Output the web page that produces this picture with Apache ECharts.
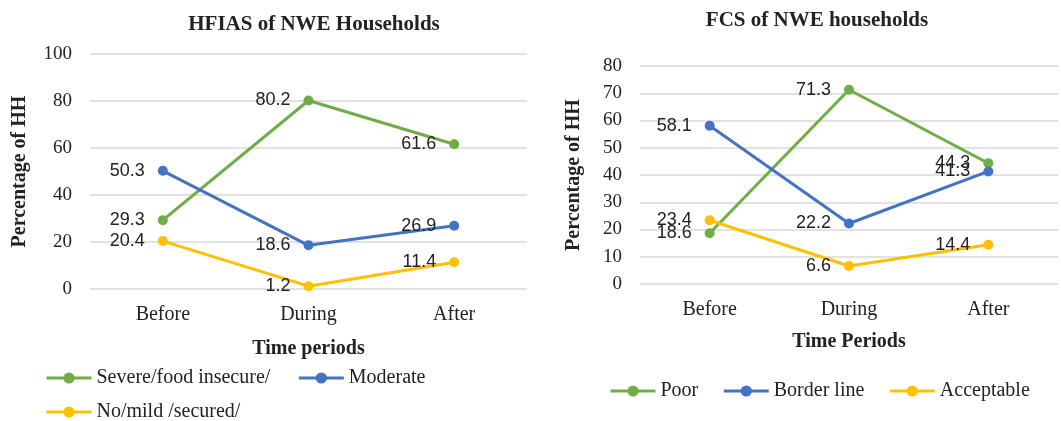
<!DOCTYPE html>
<html>
<head>
<meta charset="utf-8">
<script src="https://cdn.jsdelivr.net/npm/echarts@6/dist/echarts.min.js"></script>
<style>
  html, body { margin: 0; padding: 0; background: #fff; }
  #main { width: 1061px; height: 421px; }
</style>
</head>
<body>
<div id="main"></div>
<script>
// periods shared by both panels
var periods = ['Before', 'During', 'After'];

// HFIAS panel
var hfiasSevere = [29.3, 80.2, 61.6];
var hfiasModerate = [50.3, 18.6, 26.9];
var hfiasMild = [20.4, 1.2, 11.4];

// FCS panel
var fcsPoor = [18.6, 71.3, 44.3];
var fcsBorder = [58.1, 22.2, 41.3];
var fcsAcceptable = [23.4, 6.6, 14.4];

var green = '#70AD47', blue = '#4472C4', yellow = '#FFC000';
var serif = '"Liberation Serif", "Times New Roman", serif';
var sans = '"Liberation Sans", Arial, sans-serif';
var textCol = '#222';

function lineSeries(name, data, color, idx) {
    return {
        name: name,
        type: 'line',
        xAxisIndex: idx,
        yAxisIndex: idx,
        data: data,
        symbol: 'circle',
        symbolSize: 10,
        color: color,
        lineStyle: { width: 3, color: color },
        itemStyle: { color: color },
        label: {
            show: true,
            position: 'left',
            distance: 13,
            fontFamily: sans,
            fontSize: 18,
            color: textCol
        },
        z: 3
    };
}

function xAx(idx, name, gap) {
    return {
        type: 'category',
        gridIndex: idx,
        data: periods,
        boundaryGap: true,
        name: name,
        nameLocation: 'middle',
        nameGap: gap,
        nameTextStyle: { fontFamily: serif, fontWeight: 'bold', fontSize: 20, color: textCol },
        axisLine: { show: false },
        axisTick: { show: false },
        axisLabel: { fontFamily: serif, fontSize: 20, color: textCol, margin: 16 }
    };
}

function yAx(idx, max, interval, gap) {
    return {
        type: 'value',
        gridIndex: idx,
        min: 0,
        max: max,
        interval: interval,
        name: 'Percentage of HH',
        nameLocation: 'middle',
        nameGap: gap,
        nameTextStyle: { fontFamily: serif, fontWeight: 'bold', fontSize: 20, color: textCol },
        axisLine: { show: false },
        axisTick: { show: false },
        axisLabel: { fontFamily: serif, fontSize: 19, color: textCol, margin: 18 },
        splitLine: { lineStyle: { color: '#D9D9D9', width: 1.5 } }
    };
}

var legendText = { fontFamily: serif, fontSize: 20, color: textCol };
var legendLine = { width: 3 };

var chart = echarts.init(document.getElementById('main'));
var option = {
    backgroundColor: '#fff',
    animation: false,
    title: [
        {
            text: 'HFIAS of NWE Households',
            left: 309, top: 9, textAlign: 'center',
            textStyle: { fontFamily: serif, fontWeight: 'bold', fontSize: 21, color: textCol }
        },
        {
            text: 'FCS of NWE households',
            left: 812, top: 5, textAlign: 'center',
            textStyle: { fontFamily: serif, fontWeight: 'bold', fontSize: 21, color: textCol }
        }
    ],
    grid: [
        { left: 90, right: 534, top: 54, bottom: 132 },
        { left: 640, right: 3, top: 66, bottom: 137 }
    ],
    xAxis: [xAx(0, 'Time periods', 50), xAx(1, 'Time Periods', 48)],
    yAxis: [yAx(0, 100, 20, 60), yAx(1, 80, 10, 56)],
    legend: [
        {
            data: ['Severe/food insecure/', 'Moderate'],
            left: 40, top: 363, itemWidth: 45, itemHeight: 14, itemGap: 27,
            lineStyle: legendLine, textStyle: legendText
        },
        {
            data: ['No/mild /secured/'],
            left: 40, top: 397, itemWidth: 45, itemHeight: 14,
            lineStyle: legendLine, textStyle: legendText
        },
        {
            data: ['Poor', 'Border line', 'Acceptable'],
            left: 604, top: 376, itemWidth: 45, itemHeight: 14, itemGap: 24,
            lineStyle: legendLine, textStyle: legendText
        }
    ],
    series: [
        lineSeries('Severe/food insecure/', hfiasSevere, green, 0),
        lineSeries('Moderate', hfiasModerate, blue, 0),
        lineSeries('No/mild /secured/', hfiasMild, yellow, 0),
        lineSeries('Poor', fcsPoor, green, 1),
        lineSeries('Border line', fcsBorder, blue, 1),
        lineSeries('Acceptable', fcsAcceptable, yellow, 1)
    ]
};
chart.setOption(option);
</script>
</body>
</html>
